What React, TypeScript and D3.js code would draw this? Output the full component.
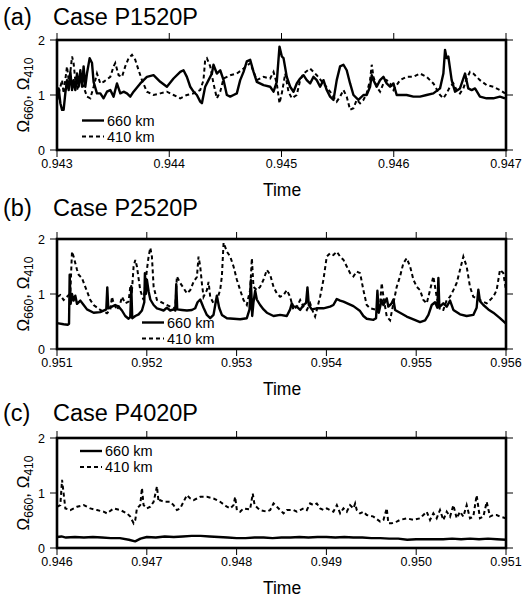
import React from "react";
import * as d3 from "d3";

type Pt = [number, number];

const ticksA = [0.943, 0.944, 0.945, 0.946, 0.947];
const ticksB = [0.951, 0.952, 0.953, 0.954, 0.955, 0.956];
const ticksC = [0.946, 0.947, 0.948, 0.949, 0.95, 0.951];
const yTicks = [0, 1, 2];
const legendLabels = ["660 km", "410 km"];
const panelLabels = ["(a)", "(b)", "(c)"];
const caseNames = ["Case P1520P", "Case P2520P", "Case P4020P"];

const p1520_660: Pt[] = [[0.943000,0.91],[0.943015,1.12],[0.943030,0.85],[0.943045,0.73],[0.943059,0.73],[0.943074,1.03],[0.943089,1.27],[0.943104,1.09],[0.943119,1.42],[0.943134,1.09],[0.943148,1.27],[0.943163,1.09],[0.943178,1.39],[0.943193,1.15],[0.943208,1.45],[0.943223,1.15],[0.943237,1.52],[0.943252,1.15],[0.943267,1.39],[0.943291,1.67],[0.943312,1.58],[0.943326,1.24],[0.943356,1.03],[0.943386,1.03],[0.943415,0.94],[0.943445,1.06],[0.943475,1.09],[0.943504,0.97],[0.943534,1.21],[0.943564,1.03],[0.943593,1.06],[0.943623,1.03],[0.943653,0.97],[0.943682,1.06],[0.943742,1.21],[0.943801,1.33],[0.943860,1.36],[0.943920,1.24],[0.943979,1.15],[0.944038,1.30],[0.944098,1.42],[0.944127,1.45],[0.944157,1.33],[0.944187,1.15],[0.944216,1.06],[0.944246,1.00],[0.944276,0.88],[0.944291,0.85],[0.944320,1.15],[0.944350,1.27],[0.944380,1.39],[0.944394,1.55],[0.944424,1.39],[0.944454,1.45],[0.944484,1.27],[0.944513,1.00],[0.944543,0.97],[0.944573,1.00],[0.944602,1.03],[0.944632,1.27],[0.944662,1.42],[0.944691,1.61],[0.944721,1.64],[0.944751,1.42],[0.944780,1.24],[0.944840,1.18],[0.944899,1.15],[0.944929,1.06],[0.944958,1.24],[0.944982,1.88],[0.945003,1.70],[0.945018,1.67],[0.945047,1.33],[0.945077,1.15],[0.945107,1.06],[0.945136,1.21],[0.945166,1.30],[0.945196,1.36],[0.945225,1.27],[0.945255,1.21],[0.945285,1.33],[0.945314,1.27],[0.945344,1.15],[0.945374,1.27],[0.945403,1.09],[0.945433,0.97],[0.945463,0.91],[0.945492,1.27],[0.945522,1.52],[0.945552,1.55],[0.945581,1.45],[0.945611,1.21],[0.945641,1.00],[0.945685,0.91],[0.945730,1.00],[0.945759,1.00],[0.945789,1.15],[0.945804,1.36],[0.945819,1.27],[0.945848,1.15],[0.945878,1.27],[0.945908,1.33],[0.945937,1.21],[0.945967,1.15],[0.945997,1.21],[0.946026,1.00],[0.946056,1.00],[0.946115,1.00],[0.946175,0.97],[0.946234,0.97],[0.946293,1.00],[0.946353,1.03],[0.946412,1.12],[0.946442,1.39],[0.946457,1.82],[0.946471,1.67],[0.946486,1.70],[0.946516,1.27],[0.946546,1.06],[0.946590,1.12],[0.946635,1.39],[0.946664,1.12],[0.946694,1.09],[0.946724,1.12],[0.946768,0.97],[0.946827,0.94],[0.946887,0.94],[0.946946,0.97],[0.946991,0.94]];

const p1520_410: Pt[] = [[0.943000,0.91],[0.943030,1.15],[0.943045,1.27],[0.943059,1.03],[0.943089,1.52],[0.943104,1.27],[0.943119,1.42],[0.943134,1.70],[0.943148,1.58],[0.943163,1.27],[0.943178,1.09],[0.943208,1.27],[0.943237,1.15],[0.943267,0.97],[0.943297,0.94],[0.943326,1.15],[0.943356,1.39],[0.943386,1.21],[0.943415,1.24],[0.943475,1.33],[0.943504,1.52],[0.943519,1.58],[0.943549,1.36],[0.943579,1.33],[0.943608,1.52],[0.943638,1.67],[0.943668,1.73],[0.943697,1.64],[0.943727,1.45],[0.943757,1.27],[0.943801,1.06],[0.943860,1.00],[0.943920,1.03],[0.943979,1.06],[0.944038,1.00],[0.944098,0.94],[0.944157,1.00],[0.944216,1.03],[0.944276,1.09],[0.944305,1.27],[0.944320,1.64],[0.944335,1.67],[0.944365,1.52],[0.944394,1.21],[0.944424,0.94],[0.944454,1.06],[0.944484,1.30],[0.944543,1.36],[0.944602,1.39],[0.944662,1.48],[0.944721,1.58],[0.944780,1.27],[0.944840,1.33],[0.944899,1.30],[0.944929,1.42],[0.944958,1.21],[0.944982,0.85],[0.945003,1.03],[0.945033,1.39],[0.945062,1.06],[0.945092,0.94],[0.945136,1.00],[0.945166,1.27],[0.945196,1.39],[0.945255,1.48],[0.945314,1.36],[0.945374,1.21],[0.945433,1.06],[0.945463,0.97],[0.945492,0.88],[0.945522,0.97],[0.945552,1.09],[0.945581,0.97],[0.945611,0.73],[0.945641,0.76],[0.945670,0.91],[0.945700,0.85],[0.945730,0.91],[0.945759,1.03],[0.945789,1.27],[0.945804,1.55],[0.945819,1.33],[0.945848,1.15],[0.945878,1.06],[0.945908,1.21],[0.945937,1.27],[0.945967,1.21],[0.945997,1.09],[0.946026,1.18],[0.946056,1.27],[0.946115,1.33],[0.946175,1.33],[0.946234,1.39],[0.946293,1.33],[0.946353,1.21],[0.946412,1.00],[0.946442,0.94],[0.946471,1.03],[0.946501,1.15],[0.946531,1.21],[0.946560,1.09],[0.946590,1.03],[0.946620,1.12],[0.946650,1.30],[0.946679,1.42],[0.946709,1.39],[0.946768,1.27],[0.946827,1.18],[0.946887,1.15],[0.946946,1.09],[0.946991,1.03]];

const p2520_660: Pt[] = [[0.951000,0.47],[0.951074,0.45],[0.951119,0.44],[0.951134,0.46],[0.951141,1.35],[0.951152,0.82],[0.951167,1.00],[0.951185,0.88],[0.951204,0.97],[0.951223,0.82],[0.951260,0.88],[0.951297,0.80],[0.951334,0.72],[0.951408,0.66],[0.951482,0.67],[0.951549,0.72],[0.951560,1.12],[0.951571,0.74],[0.951612,0.77],[0.951649,0.80],[0.951686,0.77],[0.951723,0.70],[0.951760,0.60],[0.951797,0.55],[0.951816,0.58],[0.951827,1.14],[0.951838,0.56],[0.951872,0.60],[0.951909,0.63],[0.951946,0.70],[0.951972,0.85],[0.951979,1.38],[0.951990,1.00],[0.952001,1.26],[0.952020,1.05],[0.952039,0.90],[0.952076,0.80],[0.952113,0.74],[0.952150,0.72],[0.952187,0.70],[0.952224,0.75],[0.952261,0.70],[0.952298,0.72],[0.952317,0.70],[0.952328,1.18],[0.952339,0.72],[0.952391,0.71],[0.952447,0.70],[0.952502,0.71],[0.952539,0.74],[0.952565,0.85],[0.952595,0.90],[0.952632,0.75],[0.952669,0.62],[0.952706,0.56],[0.952743,0.62],[0.952762,0.80],[0.952780,0.97],[0.952806,0.75],[0.952836,0.62],[0.952892,0.56],[0.952966,0.55],[0.953040,0.54],[0.953114,0.56],[0.953144,0.72],[0.953159,1.25],[0.953174,0.60],[0.953188,0.85],[0.953207,1.06],[0.953225,0.90],[0.953262,0.80],[0.953300,0.72],[0.953337,0.66],[0.953411,0.60],[0.953485,0.62],[0.953559,0.60],[0.953596,0.72],[0.953615,0.83],[0.953633,0.77],[0.953670,0.77],[0.953708,0.71],[0.953745,0.80],[0.953774,0.84],[0.953789,1.12],[0.953804,0.80],[0.953837,0.72],[0.953893,0.74],[0.953967,0.74],[0.954041,0.77],[0.954078,0.80],[0.954116,0.91],[0.954153,0.88],[0.954190,0.86],[0.954245,0.82],[0.954301,0.78],[0.954375,0.69],[0.954412,0.60],[0.954449,0.55],[0.954524,0.53],[0.954553,0.56],[0.954568,1.06],[0.954583,0.66],[0.954616,0.89],[0.954635,0.80],[0.954672,0.92],[0.954690,0.77],[0.954727,0.83],[0.954746,0.90],[0.954765,0.71],[0.954820,0.66],[0.954894,0.59],[0.954969,0.54],[0.955043,0.49],[0.955099,0.52],[0.955136,0.62],[0.955173,0.80],[0.955210,0.85],[0.955236,0.75],[0.955247,1.29],[0.955258,0.76],[0.955302,0.83],[0.955340,0.77],[0.955377,0.88],[0.955414,0.71],[0.955488,0.63],[0.955562,0.60],[0.955636,0.62],[0.955673,0.75],[0.955692,1.08],[0.955710,0.87],[0.955748,0.80],[0.955803,0.72],[0.955859,0.66],[0.955933,0.56],[0.956000,0.46]];

const p2520_410: Pt[] = [[0.951000,0.95],[0.951037,0.98],[0.951074,0.89],[0.951111,0.95],[0.951148,1.01],[0.951167,1.77],[0.951185,1.68],[0.951204,1.56],[0.951223,1.44],[0.951241,1.35],[0.951278,1.29],[0.951315,1.13],[0.951371,0.89],[0.951408,0.80],[0.951482,0.71],[0.951556,0.65],[0.951593,0.71],[0.951612,0.95],[0.951631,0.83],[0.951668,0.71],[0.951705,0.83],[0.951723,0.95],[0.951760,0.83],[0.951797,0.86],[0.951816,1.13],[0.951835,1.07],[0.951853,1.50],[0.951872,1.62],[0.951890,1.50],[0.951927,1.07],[0.951964,0.89],[0.952001,1.44],[0.952020,1.68],[0.952039,1.84],[0.952057,1.68],[0.952076,1.13],[0.952113,0.89],[0.952187,0.83],[0.952261,0.77],[0.952317,0.74],[0.952335,1.32],[0.952372,1.20],[0.952409,1.11],[0.952447,1.01],[0.952484,1.07],[0.952521,1.22],[0.952558,1.31],[0.952576,1.68],[0.952595,1.50],[0.952613,1.20],[0.952632,0.95],[0.952669,1.07],[0.952688,1.22],[0.952706,0.95],[0.952743,0.83],[0.952780,0.89],[0.952817,1.07],[0.952836,1.32],[0.952855,1.93],[0.952892,1.77],[0.952929,1.68],[0.952966,1.50],[0.953003,1.26],[0.953040,1.07],[0.953077,0.89],[0.953114,0.80],[0.953133,0.95],[0.953151,1.07],[0.953170,1.65],[0.953188,1.13],[0.953225,1.07],[0.953262,1.13],[0.953300,1.26],[0.953337,1.44],[0.953374,1.35],[0.953411,1.13],[0.953448,1.01],[0.953485,0.95],[0.953522,0.98],[0.953559,1.07],[0.953596,0.95],[0.953633,0.71],[0.953670,0.77],[0.953708,0.89],[0.953745,0.77],[0.953782,0.71],[0.953819,0.83],[0.953856,0.65],[0.953874,0.59],[0.953893,0.71],[0.953930,0.95],[0.953967,1.26],[0.954004,1.68],[0.954041,1.74],[0.954078,1.71],[0.954116,1.77],[0.954153,1.68],[0.954190,1.62],[0.954227,1.50],[0.954264,1.38],[0.954301,1.32],[0.954338,1.41],[0.954375,1.38],[0.954412,1.07],[0.954449,0.80],[0.954486,0.74],[0.954561,0.71],[0.954598,0.83],[0.954616,1.20],[0.954635,0.95],[0.954672,0.59],[0.954709,0.52],[0.954746,0.83],[0.954783,1.13],[0.954820,1.32],[0.954857,1.56],[0.954894,1.65],[0.954932,1.50],[0.954969,1.26],[0.955006,1.13],[0.955043,1.07],[0.955080,0.89],[0.955117,0.83],[0.955154,1.07],[0.955191,1.32],[0.955228,0.95],[0.955265,0.71],[0.955302,0.71],[0.955340,0.89],[0.955377,0.95],[0.955414,1.07],[0.955451,1.20],[0.955488,1.44],[0.955525,1.68],[0.955562,1.50],[0.955599,1.13],[0.955636,0.95],[0.955710,0.89],[0.955785,0.83],[0.955859,0.95],[0.955896,1.07],[0.955933,1.44],[0.955970,1.38],[0.956000,1.07]];

const p4020_660: Pt[] = [[0.946000,0.20],[0.946050,0.21],[0.946100,0.19],[0.946200,0.20],[0.946300,0.19],[0.946400,0.20],[0.946500,0.19],[0.946600,0.18],[0.946700,0.18],[0.946800,0.15],[0.946870,0.12],[0.946930,0.17],[0.947000,0.20],[0.947100,0.19],[0.947200,0.21],[0.947300,0.20],[0.947400,0.21],[0.947500,0.22],[0.947600,0.22],[0.947700,0.21],[0.947800,0.20],[0.947900,0.19],[0.948000,0.18],[0.948100,0.18],[0.948200,0.19],[0.948300,0.19],[0.948400,0.18],[0.948500,0.19],[0.948600,0.19],[0.948700,0.20],[0.948800,0.19],[0.948900,0.20],[0.949000,0.20],[0.949100,0.19],[0.949200,0.20],[0.949300,0.19],[0.949400,0.19],[0.949500,0.18],[0.949600,0.18],[0.949700,0.17],[0.949800,0.17],[0.949900,0.15],[0.950000,0.16],[0.950100,0.16],[0.950200,0.16],[0.950300,0.16],[0.950400,0.17],[0.950500,0.16],[0.950600,0.17],[0.950700,0.16],[0.950800,0.17],[0.950900,0.16],[0.951000,0.15]];

const p4020_410: Pt[] = [[0.946000,0.75],[0.946037,0.78],[0.946056,1.24],[0.946074,0.99],[0.946093,0.72],[0.946148,0.69],[0.946223,0.75],[0.946297,0.78],[0.946371,0.72],[0.946445,0.69],[0.946519,0.66],[0.946556,0.63],[0.946631,0.72],[0.946705,0.69],[0.946779,0.63],[0.946816,0.57],[0.946853,0.45],[0.946872,0.51],[0.946890,0.72],[0.946927,0.78],[0.946946,1.09],[0.946964,0.78],[0.947001,0.72],[0.947039,0.75],[0.947076,0.84],[0.947113,1.12],[0.947131,0.84],[0.947150,0.87],[0.947187,0.84],[0.947224,0.84],[0.947261,0.84],[0.947298,0.78],[0.947335,0.69],[0.947372,0.72],[0.947409,0.84],[0.947447,0.96],[0.947484,0.90],[0.947521,0.87],[0.947558,0.90],[0.947595,0.93],[0.947669,0.93],[0.947743,0.90],[0.947817,0.84],[0.947892,0.75],[0.947929,0.72],[0.947966,0.78],[0.947984,0.93],[0.948003,0.69],[0.948040,0.66],[0.948077,0.72],[0.948150,0.70],[0.948180,0.99],[0.948200,0.78],[0.948240,0.72],[0.948262,0.69],[0.948337,0.66],[0.948374,0.69],[0.948411,0.81],[0.948448,0.75],[0.948485,0.69],[0.948522,0.63],[0.948559,0.69],[0.948596,0.69],[0.948633,0.69],[0.948670,0.66],[0.948708,0.69],[0.948745,0.72],[0.948782,0.69],[0.948819,0.81],[0.948856,0.78],[0.948893,0.81],[0.948930,0.72],[0.948967,0.69],[0.949004,0.72],[0.949041,0.69],[0.949078,0.66],[0.949116,0.78],[0.949153,0.63],[0.949190,0.72],[0.949227,0.66],[0.949264,0.78],[0.949301,0.72],[0.949320,0.81],[0.949338,0.69],[0.949375,0.63],[0.949412,0.66],[0.949449,0.60],[0.949524,0.57],[0.949598,0.48],[0.949635,0.51],[0.949672,0.72],[0.949690,0.45],[0.949727,0.45],[0.949783,0.48],[0.949820,0.51],[0.949894,0.54],[0.949969,0.51],[0.950043,0.54],[0.950080,0.60],[0.950117,0.66],[0.950154,0.51],[0.950191,0.63],[0.950228,0.54],[0.950265,0.69],[0.950302,0.51],[0.950340,0.66],[0.950377,0.57],[0.950414,0.78],[0.950451,0.54],[0.950488,0.66],[0.950525,0.57],[0.950562,0.78],[0.950599,0.54],[0.950636,0.57],[0.950673,0.96],[0.950710,0.54],[0.950748,0.57],[0.950785,0.84],[0.950822,0.57],[0.950859,0.60],[0.950896,0.60],[0.950933,0.57],[0.951000,0.54]];

const FONT = "'Liberation Sans', Arial, Helvetica, sans-serif";
const X0 = 57;
const X1 = 506;
const PH = 110;
const LEG_GAP = 16;
const LEG_FS = 14.5;

const layout = [
  { top: 40, titleY: 25, legendX: 82, legendY: 120.5 },
  { top: 239, titleY: 216, legendX: 142, legendY: 322.5 },
  { top: 438, titleY: 421, legendX: 80, legendY: 451 },
];

const series = [
  { ticks: ticksA, s660: p1520_660, s410: p1520_410 },
  { ticks: ticksB, s660: p2520_660, s410: p2520_410 },
  { ticks: ticksC, s660: p4020_660, s410: p4020_410 },
];

function Panel({ i }: { i: number }) {
  const { top, titleY, legendX, legendY } = layout[i];
  const { ticks, s660, s410 } = series[i];
  const bottom = top + PH;
  const x = d3.scaleLinear().domain([ticks[0], ticks[ticks.length - 1]]).range([X0, X1]);
  const y = d3.scaleLinear().domain([0, 2]).range([bottom, top]);
  const line = d3.line<Pt>().x((d) => x(d[0])).y((d) => y(d[1]));
  const clipId = `clip${i}`;
  const tl = 7;
  return (
    <g>
      <defs>
        <clipPath id={clipId}>
          <rect x={X0} y={top} width={X1 - X0} height={PH} />
        </clipPath>
      </defs>
      <text x={3} y={titleY} fontSize={23.5} fontFamily={FONT}>{panelLabels[i]}</text>
      <text x={53} y={titleY} fontSize={23.5} fontFamily={FONT}>{caseNames[i]}</text>
      <g clipPath={`url(#${clipId})`}>
        <path d={line(s410) || ""} fill="none" stroke="#000" strokeWidth={2} strokeDasharray="4,3" />
        <path d={line(s660) || ""} fill="none" stroke="#000" strokeWidth={2.4} strokeLinejoin="round" />
      </g>
      {ticks.map((t) => (
        <g key={t}>
          <line x1={x(t)} x2={x(t)} y1={bottom} y2={bottom + tl} stroke="#000" strokeWidth={1} />
          <line x1={x(t)} x2={x(t)} y1={top} y2={top - tl} stroke="#000" strokeWidth={1} />
          <text x={x(t)} y={bottom + 18} fontSize={12.5} textAnchor="middle" fontFamily={FONT}>
            {d3.format(".3f")(t)}
          </text>
        </g>
      ))}
      {yTicks.map((v) => (
        <g key={v}>
          <line x1={X0 - tl} x2={X0} y1={y(v)} y2={y(v)} stroke="#000" strokeWidth={1} />
          <line x1={X1} x2={X1 + tl} y1={y(v)} y2={y(v)} stroke="#000" strokeWidth={1} />
          <text x={45} y={y(v) + 4.5} fontSize={12.5} textAnchor="end" fontFamily={FONT}>{v}</text>
        </g>
      ))}
      <rect x={X0} y={top} width={X1 - X0} height={PH} fill="none" stroke="#000" strokeWidth={2.6} />
      <text x={282} y={bottom + 46} fontSize={17.5} textAnchor="middle" fontFamily={FONT}>Time</text>
      <text transform={`translate(29, ${top + PH / 2}) rotate(-90)`} textAnchor="middle" fontSize={17} fontFamily={FONT}>
        Ω<tspan fontSize={12} dy={4}>660</tspan>
        <tspan dy={-4}>, Ω</tspan>
        <tspan fontSize={12} dy={4}>410</tspan>
      </text>
      <line x1={legendX} x2={legendX + 22} y1={legendY} y2={legendY} stroke="#000" strokeWidth={2.4} />
      <line x1={legendX} x2={legendX + 22} y1={legendY + LEG_GAP} y2={legendY + LEG_GAP} stroke="#000" strokeWidth={2} strokeDasharray="4,3" />
      <text x={legendX + 25} y={legendY + 5.2} fontSize={LEG_FS} fontFamily={FONT}>{legendLabels[0]}</text>
      <text x={legendX + 25} y={legendY + LEG_GAP + 5.2} fontSize={LEG_FS} fontFamily={FONT}>{legendLabels[1]}</text>
    </g>
  );
}

export default function App() {
  return (
    <svg width={530} height={602} style={{ position: "absolute", left: 0, top: 0, background: "#fff" }}>
      <rect x={0} y={0} width={530} height={602} fill="#fff" />
      {[0, 1, 2].map((i) => (
        <Panel key={i} i={i} />
      ))}
    </svg>
  );
}
